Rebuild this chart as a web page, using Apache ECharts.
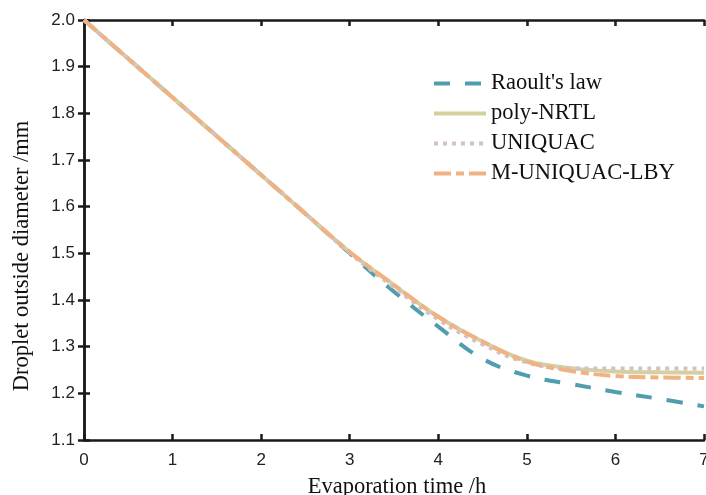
<!DOCTYPE html>
<html><head><meta charset="utf-8">
<script src="https://cdn.jsdelivr.net/npm/echarts@6/dist/echarts.min.js"></script>
<style>html,body{margin:0;padding:0;background:#fff}#c{width:706px;height:495px}</style>
</head><body><div id="c"></div>
<script>
const times = [0, 0.5, 1, 1.5, 2, 2.5, 3, 3.5, 4, 4.5, 5, 5.5, 6, 6.5, 7];
const raoult   = [2.0, 1.917, 1.834, 1.751, 1.668, 1.585, 1.500, 1.418, 1.343, 1.274, 1.238, 1.220, 1.203, 1.188, 1.172];
const polyNRTL = [2.0, 1.917, 1.834, 1.751, 1.668, 1.585, 1.503, 1.432, 1.364, 1.311, 1.270, 1.254, 1.247, 1.245, 1.244];
const uniquac  = [2.0, 1.917, 1.834, 1.751, 1.668, 1.585, 1.501, 1.427, 1.358, 1.305, 1.266, 1.254, 1.253, 1.253, 1.253];
const mUniquac = [2.0, 1.917, 1.834, 1.751, 1.668, 1.585, 1.503, 1.432, 1.364, 1.311, 1.268, 1.248, 1.237, 1.234, 1.233];
const seriesNames = ["Raoult's law", "poly-NRTL", "UNIQUAC", "M-UNIQUAC-LBY"];
const xTicks = [0, 1, 2, 3, 4, 5, 6, 7];
const yTicks = [1.1, 1.2, 1.3, 1.4, 1.5, 1.6, 1.7, 1.8, 1.9, 2.0];

const pair = arr => times.map((t, i) => [t, arr[i]]);
const axisLine = {show: true, lineStyle: {color: '#1a1a1a', width: 2.5}};
const tickIn = {show: true, inside: true, length: 6, lineStyle: {color: '#1a1a1a', width: 2.5}};
const serif = 'Liberation Serif, Times New Roman, serif';
const sans = 'Liberation Sans, Arial, sans-serif';

const chart = echarts.init(document.getElementById('c'), null, {renderer: 'canvas'});
chart.setOption({
  animation: false,
  backgroundColor: '#fff',
  grid: {left: 84, top: 20, right: 2, bottom: 55, containLabel: false, outerBoundsMode: 'none'},
  legend: {
    left: 427, top: 67, orient: 'vertical', itemWidth: 52, itemHeight: 14, itemGap: 7,
    textStyle: {fontFamily: serif, fontSize: 22.5, color: '#111'},
    itemStyle: {opacity: 0},
    lineStyle: {width: 4},
    data: seriesNames
  },
  xAxis: [{
    type: 'value', min: 0, max: 7, interval: 1, position: 'bottom',
    name: 'Evaporation time /h', nameLocation: 'middle', nameGap: 36,
    nameTextStyle: {fontFamily: serif, fontSize: 22.5, color: '#111', padding: [0, 0, 0, 6]},
    axisLine, axisTick: tickIn, splitLine: {show: false},
    axisLabel: {fontFamily: sans, fontSize: 17, color: '#222', margin: 12,
      formatter: v => xTicks.includes(v) ? String(v) : ''}
  }, {
    type: 'value', min: 0, max: 7, interval: 1, position: 'top',
    axisLine, axisTick: tickIn, axisLabel: {show: false}, splitLine: {show: false}
  }],
  yAxis: [{
    type: 'value', min: 1.1, max: 2.0, interval: 0.1, position: 'left',
    name: 'Droplet outside diameter /mm', nameLocation: 'middle', nameGap: 50,
    nameTextStyle: {fontFamily: serif, fontSize: 22.5, color: '#111', padding: [0, 52, 0, 0]},
    axisLine, axisTick: tickIn, splitLine: {show: false},
    axisLabel: {fontFamily: sans, fontSize: 17, color: '#222', margin: 9,
      formatter: v => { const t = yTicks.find(y => Math.abs(y - v) < 1e-6); return t !== undefined ? t.toFixed(1) : ''; }}
  }, {
    type: 'value', min: 1.1, max: 2.0, interval: 0.1, position: 'right',
    axisLine, axisTick: tickIn, axisLabel: {show: false}, splitLine: {show: false}
  }],
  series: [
    {name: seriesNames[0], type: 'line', data: pair(raoult), smooth: 0.4, showSymbol: false, symbol: 'none',
     lineStyle: {color: '#4f9dad', width: 4, type: [16, 15]}, itemStyle: {color: '#4f9dad'}, z: 2},
    {name: seriesNames[1], type: 'line', data: pair(polyNRTL), smooth: 0.4, showSymbol: false, symbol: 'none',
     lineStyle: {color: '#d5d0a0', width: 4, type: 'solid'}, itemStyle: {color: '#d5d0a0'}, z: 3},
    {name: seriesNames[2], type: 'line', data: pair(uniquac), smooth: 0.4, showSymbol: false, symbol: 'none',
     lineStyle: {color: '#d3c1c5', width: 4, type: [4, 5]}, itemStyle: {color: '#d3c1c5'}, z: 4},
    {name: seriesNames[3], type: 'line', data: pair(mUniquac), smooth: 0.4, showSymbol: false, symbol: 'none',
     lineStyle: {color: '#f0b283', width: 4, type: [17, 5, 8, 5]}, itemStyle: {color: '#f0b283'}, z: 5}
  ]
});
</script></body></html>
